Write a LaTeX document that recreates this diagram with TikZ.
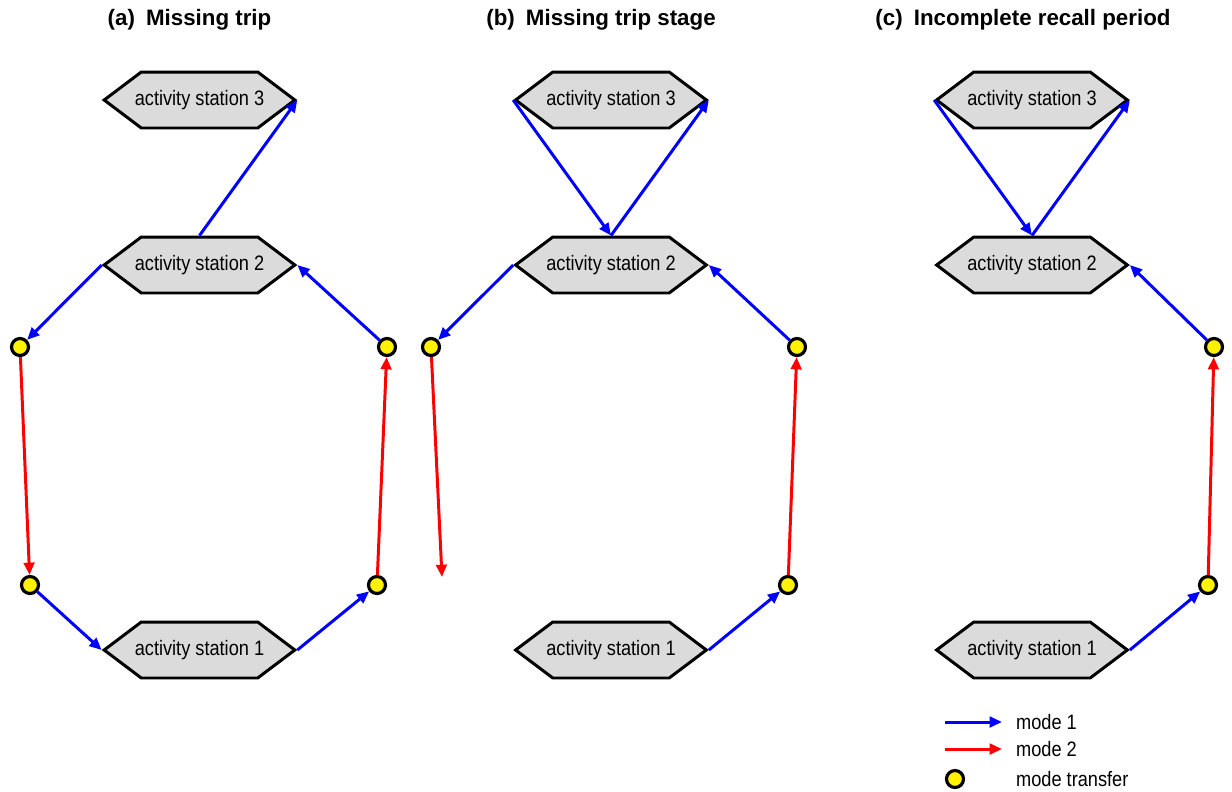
\documentclass[tikz,border=0pt]{standalone}
\usepackage{fontspec}
\setmainfont[FakeStretch=0.87]{Liberation Sans}
\newfontfamily\titlefont{Liberation Sans}
\usetikzlibrary{arrows.meta,shapes.symbols}

\begin{document}
\begin{tikzpicture}[
    % one unit is one pixel of the reference, y runs downwards
    x={(0.02cm,0cm)},
    y={(0cm,-0.02cm)}
]
    % --- Style Definitions ---
    \tikzstyle{station} = [draw, line width=1.7pt, fill=black!14, shape=signal,
        signal to=east and west, signal pointer angle=74,
        minimum height=1.12cm, inner ysep=0pt, inner xsep=-0.13cm,
        font=\fontsize{11.9}{14}\selectfont]
    \tikzstyle{transfer} = [draw, circle, line width=1.8pt, fill=yellow,
        minimum size=0.34cm, inner sep=0pt]
    \tikzstyle{modeone} = [draw, blue, line width=1.7pt,
        -{Triangle[length=7pt,width=6pt]}]
    \tikzstyle{modetwo} = [draw, red, line width=1.7pt,
        -{Triangle[length=7pt,width=6pt]}]
    \tikzstyle{paneltitle} = [font=\titlefont\fontsize{12.7}{15}\selectfont\bfseries]
    \tikzstyle{legendtext} = [anchor=west, font=\fontsize{11.9}{14}\selectfont]

    \useasboundingbox (0,0) rectangle (1232,792);

    % --- Panel Titles ---
    \node[paneltitle] (ta) at (189.5,20) {(a)\enspace Missing trip};
    \node[paneltitle] (tb) at (601,20) {(b)\enspace Missing trip stage};
    \node[paneltitle] (tc) at (1023,20) {(c)\enspace Incomplete recall period};

    % --- (a) Missing trip ---
    \node[station] (s3a) at (199.5,100) {activity station 3};
    \node[station] (s2a) at (199.5,265) {activity station 2};
    \node[station] (s1a) at (199.5,650) {activity station 1};
    \node[transfer] (c1a) at (20,347) {};
    \node[transfer] (c2a) at (30,585) {};
    \node[transfer] (c3a) at (377,585) {};
    \node[transfer] (c4a) at (387,347) {};

    \draw[modeone] (s2a.north) -- (s3a.east);
    \draw[modeone] (s2a.west) -- (c1a);
    \draw[modetwo] (c1a) -- (c2a);
    \draw[modeone] (c2a) -- (s1a.west);
    \draw[modeone] (s1a.east) -- (c3a);
    \draw[modetwo] (c3a) -- (c4a);
    \draw[modeone] (c4a) -- (s2a.east);

    % --- (b) Missing trip stage ---
    \node[station] (s3b) at (611,100) {activity station 3};
    \node[station] (s2b) at (611,265) {activity station 2};
    \node[station] (s1b) at (611,650) {activity station 1};
    \node[transfer] (c1b) at (431,347) {};
    \coordinate (e1b) at (442,577);
    \node[transfer] (c3b) at (788,585) {};
    \node[transfer] (c4b) at (797,347) {};

    \draw[modeone] (s3b.west) -- (s2b.north);
    \draw[modeone] (s2b.north) -- (s3b.east);
    \draw[modeone] (s2b.west) -- (c1b);
    \draw[modetwo] (c1b) -- (e1b);
    \draw[modeone] (s1b.east) -- (c3b);
    \draw[modetwo] (c3b) -- (c4b);
    \draw[modeone] (c4b) -- (s2b.east);

    % --- (c) Incomplete recall period ---
    \node[station] (s3c) at (1032,100) {activity station 3};
    \node[station] (s2c) at (1032,265) {activity station 2};
    \node[station] (s1c) at (1032,650) {activity station 1};
    \node[transfer] (c3c) at (1208,585) {};
    \node[transfer] (c4c) at (1214,347) {};

    \draw[modeone] (s3c.west) -- (s2c.north);
    \draw[modeone] (s2c.north) -- (s3c.east);
    \draw[modeone] (s1c.east) -- (c3c);
    \draw[modetwo] (c3c) -- (c4c);
    \draw[modeone] (c4c) -- (s2c.east);

    % --- Legend ---
    \coordinate (la1) at (945,722);
    \coordinate (lb1) at (1002,722);
    \coordinate (la2) at (945,749);
    \coordinate (lb2) at (1002,749);
    \draw[modeone] (la1) -- (lb1);
    \draw[modetwo] (la2) -- (lb2);
    \node[transfer] (lc) at (955,779) {};
    \node[legendtext] (lt1) at (1010,722) {mode 1};
    \node[legendtext] (lt2) at (1010,749) {mode 2};
    \node[legendtext] (lt3) at (1010,779) {mode transfer};
\end{tikzpicture}
\end{document}
